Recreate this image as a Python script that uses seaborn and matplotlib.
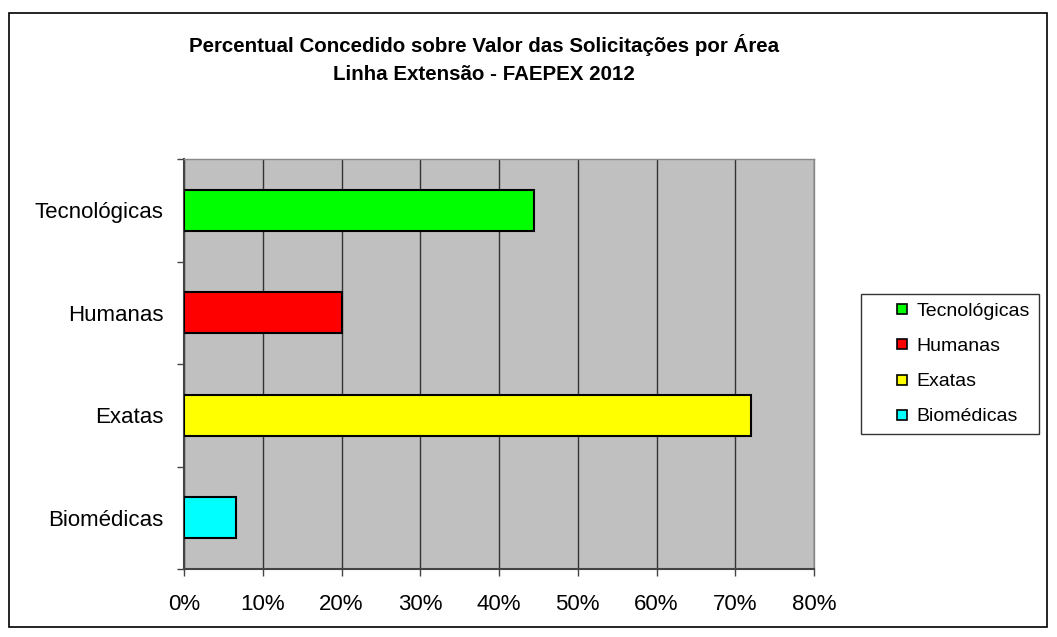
import pandas as pd
import matplotlib.pyplot as plt
import seaborn as sns
from matplotlib.patches import Rectangle
from matplotlib.lines import Line2D
from matplotlib.ticker import PercentFormatter, FixedLocator

areas = ['Tecnológicas', 'Humanas', 'Exatas', 'Biomédicas']
percentual = [44.5, 20.0, 72.0, 6.6]
cores = ['#00FF00', '#FF0000', '#FFFF00', '#00FFFF']

df = pd.DataFrame({'area': areas, 'pct': percentual})

sns.set_style('white', {'text.color': 'black', 'axes.labelcolor': 'black'})
plt.rcParams['font.family'] = ['Liberation Sans', 'DejaVu Sans']

fig = plt.figure(figsize=(10.57, 6.37), dpi=100)
ax = fig.add_axes([184/1057, 1 - 569/637, 630/1057, 410/637])

sns.barplot(data=df, y='area', x='pct', hue='area', order=areas, hue_order=areas,
            palette=dict(zip(areas, cores)), orient='h', width=0.4,
            edgecolor='black', linewidth=1.5, saturation=1, dodge=False,
            legend=False, ax=ax, zorder=3)

ax.set_facecolor('#C0C0C0')
ax.set_xlim(0, 80)
ax.set_ylim(3.5, -0.5)
ax.set_xticks(range(0, 81, 10))
ax.xaxis.set_major_formatter(PercentFormatter(decimals=0))
ax.grid(axis='x', color='#333333', linewidth=1, zorder=1)
ax.set_axisbelow(True)
ax.set_xlabel('')
ax.set_ylabel('')

ax.yaxis.set_minor_locator(FixedLocator([-0.5, 0.5, 1.5, 2.5, 3.5]))
ax.tick_params(axis='y', which='major', length=0, labelsize=16, pad=15, labelcolor='black')
ax.tick_params(axis='y', which='minor', length=5, color='#444444', width=1, left=True)
ax.tick_params(axis='x', length=5, color='#444444', width=1, labelsize=16, pad=13,
               bottom=True, labelcolor='black')

for side in ['left', 'bottom']:
    ax.spines[side].set_color('#444444')
    ax.spines[side].set_linewidth(1.5)
for side in ['top', 'right']:
    ax.spines[side].set_color('#888888')
    ax.spines[side].set_linewidth(1)

# legend with small square markers, like the Excel one
handles = [Line2D([], [], linestyle='none', marker='s', markersize=7,
                  markerfacecolor=c, markeredgecolor='black', markeredgewidth=1.2)
           for c in cores]
leg = ax.legend(handles, areas, loc='center left', bbox_to_anchor=(861/1057, 1 - 364/637),
                bbox_transform=fig.transFigure, frameon=True, fancybox=False,
                edgecolor='black', fontsize=14, handlelength=3.3, handletextpad=-0.9,
                labelspacing=0.9, borderpad=0.45, borderaxespad=0)
leg.get_frame().set_linewidth(1)
for t in leg.get_texts():
    t.set_color('black')

fig.text(484/1057, 1 - 45/637, 'Percentual Concedido sobre Valor das Solicitações por Área',
         ha='center', va='center', fontsize=14.8, fontweight='bold', color='black')
fig.text(484/1057, 1 - 75/637, 'Linha Extensão - FAEPEX 2012',
         ha='center', va='center', fontsize=14.8, fontweight='bold', color='black')

fig.patches.append(Rectangle((9/1057, 1 - 627/637), 1038/1057, 614/637,
                             transform=fig.transFigure, fill=False,
                             edgecolor='black', linewidth=1.2))

fig.savefig('out.png', dpi=100)
